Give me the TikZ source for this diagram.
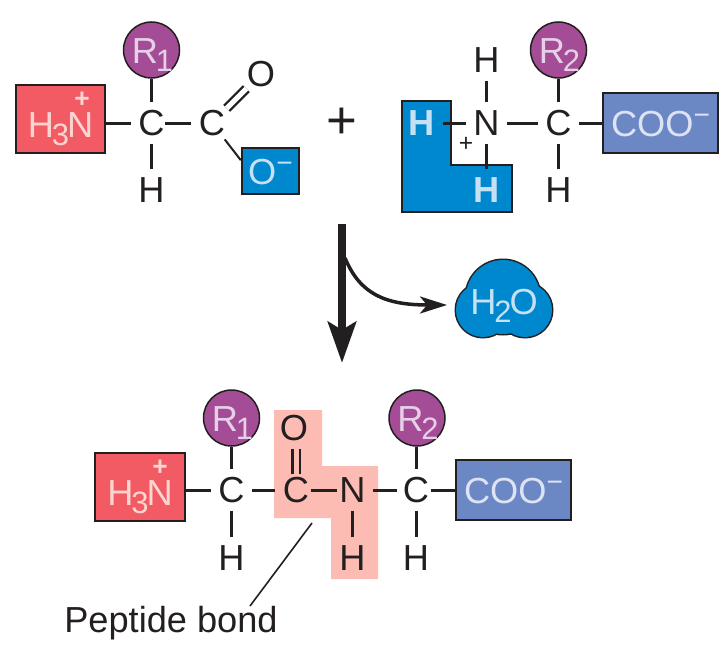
\documentclass[tikz,border=0pt]{standalone}
\usepackage{fontspec}
\setmainfont{Liberation Sans}
\usetikzlibrary{arrows.meta}
\definecolor{ink}{HTML}{231F20}
\definecolor{redbox}{HTML}{F25A64}
\definecolor{redtxt}{HTML}{FBD5D0}
\definecolor{purp}{HTML}{A44C96}
\definecolor{purptxt}{HTML}{E6D0E8}
\definecolor{bluebox}{HTML}{0088CF}
\definecolor{bluetxt}{HTML}{C6E0F4}
\definecolor{coobox}{HTML}{6C88C4}
\definecolor{cootxt}{HTML}{DDE3F3}
\definecolor{pinkbg}{HTML}{FDBCB3}
\newcommand{\lowsub}[1]{\kern-.02cm\raisebox{-.08cm}{\fontsize{8.8pt}{8pt}\selectfont #1}\kern-.02cm}
\newcommand{\himinus}{\raisebox{.12cm}{\fontsize{8pt}{8pt}\selectfont −}}
\tikzset{
  every node/.style={font=\fontsize{10.3pt}{12pt}\selectfont,text=ink},
  atom/.style={circle,inner sep=0pt,minimum size=.4cm},
  bond/.style={line width=.03cm,color=ink},
  capsbox/.style={text height=.27cm,text depth=0pt,inner sep=0pt},
  groupbox/.style={draw=ink,line width=.024cm,capsbox},
  rgroup/.style={circle,draw=ink,line width=.015cm,fill=purp,text=purptxt,capsbox,minimum size=.56cm},
  ammonium/.style={groupbox,fill=redbox,text=redtxt,minimum width=.89cm,minimum height=.68cm},
  ammplus/.style={text=redtxt,inner sep=0pt,font=\fontsize{7.5pt}{8pt}\selectfont\bfseries},
  carboxyl/.style={groupbox,fill=coobox,text=cootxt,minimum width=1.15cm,minimum height=.6cm},
  bluetext/.style={atom,text=bluetxt,font=\fontsize{10.3pt}{12pt}\selectfont\bfseries}
}
\begin{document}
\begin{tikzpicture}
\useasboundingbox (0,0) rectangle (7.28,6.46);

% amino acid 1
\node[ammonium] (nh1) at (.605,5.27) {\raisebox{-.045cm}{H\lowsub{3}N}};
\node[ammplus] (plus1) at (.82,5.46) {+};
\node[rgroup] (r1) at (1.515,5.96) {R\lowsub{1}};
\node[atom] (ca1) at (1.515,5.23) {C};
\node[atom] (ha1) at (1.515,4.56) {H};
\node[atom] (co1) at (2.12,5.23) {C};
\node[atom] (ox1) at (2.61,5.72) {O};
\node[groupbox,fill=bluebox,text=bluetxt,minimum width=.57cm,minimum height=.46cm] (om) at (2.705,4.75) {O\himinus};
\draw[bond] (nh1.east |- ca1) -- (ca1);
\draw[bond] (r1) -- (ca1);
\draw[bond] (ca1) -- (ha1);
\draw[bond,shorten <=-.07cm] (ca1) -- (co1);
\draw[bond,line width=.024cm,double=white,double distance=.05cm] (co1) -- (ox1);
\draw[bond,line width=.02cm] (co1) -- (om.160);

\node[font=\fontsize{15pt}{16pt}\selectfont] (plus) at (3.42,5.23) {+};

% amino acid 2
\fill[bluebox,draw=ink,line width=.024cm] (4.02,5.45) -- (4.51,5.45) -- (4.51,4.81) -- (5.12,4.81) -- (5.12,4.34) -- (4.02,4.34) -- cycle;
\node[bluetext] (hl) at (4.22,5.23) {H};
\node[bluetext] (hb) at (4.865,4.56) {H};
\node[atom] (n2) at (4.865,5.23) {N};
\node[atom] (ht) at (4.865,5.86) {H};
\node[font=\fontsize{7pt}{8pt}\selectfont] (plus2) at (4.66,5.02) {+};
\node[atom] (ca2) at (5.585,5.23) {C};
\node[rgroup] (r2) at (5.585,5.96) {R\lowsub{2}};
\node[atom] (ha2) at (5.585,4.56) {H};
\node[carboxyl] (coo2) at (6.605,5.23) {COO\himinus};
\draw[bond] (hl) -- (n2);
\draw[bond] (ht) -- (n2);
\draw[bond] (n2) -- (hb);
\draw[bond] (n2) -- (ca2);
\draw[bond] (r2) -- (ca2);
\draw[bond] (ca2) -- (ha2);
\draw[bond] (ca2) -- (coo2);

% reaction arrows
\coordinate (arrtop) at (3.42,4.22);
\coordinate (arrtip) at (3.42,2.83);
\coordinate (curvea) at (3.45,3.88);
\coordinate (curveb) at (4.47,3.41);
\draw[ink,line width=.08cm,-{Stealth[length=.41cm,width=.28cm,inset=.08cm]}] (arrtop) -- (arrtip);
\draw[ink,line width=.035cm,-{Stealth[length=.27cm,width=.17cm,inset=.07cm]}] (curvea) .. controls (3.6,3.52) and (3.85,3.41) .. (curveb);

% water
\foreach \x/\y/\r in {4.83/3.36/.27,5.25/3.36/.27,5.03/3.49/.37}
  \draw[ink,line width=.03cm] (\x,\y) circle (\r);
\foreach \x/\y/\r in {4.83/3.36/.27,5.25/3.36/.27,5.03/3.49/.37}
  \fill[bluebox] (\x,\y) circle (\r);
\node[text=bluetxt,anchor=base] (water) at (5.04,3.32) {H\lowsub{2}O};

% dipeptide
\fill[pinkbg] (2.74,2.36) -- (3.22,2.36) -- (3.22,1.80) -- (3.78,1.80) -- (3.78,.67) -- (3.31,.67) -- (3.31,1.28) -- (2.74,1.28) -- cycle;
\node[ammonium,minimum width=.9cm] (nh3) at (1.40,1.59) {\raisebox{-.045cm}{H\lowsub{3}N}};
\node[ammplus] (plus3) at (1.60,1.78) {+};
\node[rgroup] (r3) at (2.315,2.28) {R\lowsub{1}};
\node[atom] (ca3) at (2.315,1.56) {C};
\node[atom] (ha3) at (2.315,.88) {H};
\node[atom] (co3) at (2.96,1.56) {C};
\node[atom] (ox3) at (2.94,2.18) {O};
\node[atom] (n3) at (3.525,1.56) {N};
\node[atom] (hn3) at (3.525,.88) {H};
\node[atom] (ca4) at (4.16,1.56) {C};
\node[rgroup] (r4) at (4.17,2.28) {R\lowsub{2}};
\node[atom] (ha4) at (4.16,.88) {H};
\node[carboxyl] (coo3) at (5.135,1.56) {COO\himinus};
\draw[bond] (nh3.east |- ca3) -- (ca3);
\draw[bond] (r3) -- (ca3);
\draw[bond] (ca3) -- (ha3);
\draw[bond] (ca3) -- (co3);
\draw[bond,line width=.024cm,double=pinkbg,double distance=.05cm,shorten <=-.05cm] (co3) -- (co3 |- ox3.south);
\draw[bond,shorten <=-.06cm,shorten >=-.05cm] (co3) -- (n3);
\draw[bond] (n3) -- (hn3);
\draw[bond,shorten >=-.02cm] (n3) -- (ca4);
\draw[bond] (r4.south -| ca4) -- (ca4);
\draw[bond] (ca4) -- (ha4);
\draw[bond,shorten <=-.06cm] (ca4) -- (coo3);

% label
\coordinate (pepa) at (3.12,1.23);
\coordinate (pepb) at (2.5,.4);
\draw[ink,line width=.016cm] (pepa) -- (pepb);
\node (peplabel) at (1.71,.23) {Peptide bond};
\end{tikzpicture}
\end{document}
